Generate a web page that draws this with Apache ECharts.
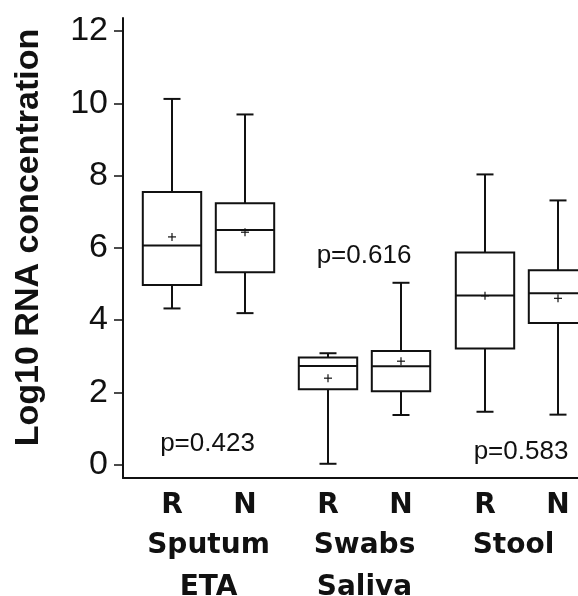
<!DOCTYPE html>
<html><head><meta charset="utf-8">
<script src="https://cdn.jsdelivr.net/npm/echarts@6/dist/echarts.min.js"></script>
<style>html,body{margin:0;padding:0;background:#fff}#c{width:578px;height:596px}</style>
</head><body><div id="c"></div>
<script>
// ---- data ----
const groups = ['Sputum\nETA', 'Swabs\nSaliva', 'Stool'];
const subCategories = ['R', 'N'];
// order: Sputum R, Sputum N, Swabs R, Swabs N, Stool R, Stool N
const whiskerLow  = [4.32, 4.19, 0.02, 1.37, 1.46, 1.38];
const q1          = [4.97, 5.32, 2.08, 2.03, 3.21, 3.92];
const median      = [6.06, 6.49, 2.73, 2.72, 4.68, 4.74];
const q3          = [7.54, 7.23, 2.96, 3.14, 5.87, 5.38];
const whiskerHigh = [10.12, 9.69, 3.08, 5.03, 8.03, 7.31];
const mean        = [6.30, 6.43, 2.39, 2.86, 4.67, 4.60];
const pValues = ['p=0.423', 'p=0.616', 'p=0.583'];
const yTickValues = [0, 2, 4, 6, 8, 10, 12];

// ---- layout ----
const INK = '#111';
const gridLefts = [135.5, 291.5, 448.5];
const gridWidth = 146;
const boxGridTop = 31, boxGridBottom = 131.5;
const boldFont = 'DejaVu Sans';
const plainFont = 'Liberation Sans';

function renderBox(params, api) {
  const xi = api.value(0);
  const lo = api.coord([xi, api.value(1)]);
  const a = api.coord([xi, api.value(2)]);
  const m = api.coord([xi, api.value(3)]);
  const b = api.coord([xi, api.value(4)]);
  const hi = api.coord([xi, api.value(5)]);
  const mn = api.coord([xi, api.value(6)]);
  const band = api.size([1, 0])[0];
  const bw = band * 0.8, hw = bw / 2, cap = 8.5, pl = 4;
  const cx = m[0];
  const st = { stroke: INK, lineWidth: 2 };
  const thin = { stroke: INK, lineWidth: 1.2 };
  const line = (x1, y1, x2, y2, s) => ({ type: 'line', shape: { x1, y1, x2, y2 }, style: s || st });
  return {
    type: 'group',
    children: [
      line(cx, hi[1], cx, b[1]),
      line(cx - cap, hi[1], cx + cap, hi[1]),
      line(cx, a[1], cx, lo[1]),
      line(cx - cap, lo[1], cx + cap, lo[1]),
      { type: 'rect', shape: { x: cx - hw, y: b[1], width: bw, height: a[1] - b[1] },
        style: { stroke: INK, lineWidth: 2, fill: '#fff' } },
      line(cx - hw, m[1], cx + hw, m[1]),
      line(cx - pl, mn[1], cx + pl, mn[1], thin),
      line(cx, mn[1] - pl, cx, mn[1] + pl, thin)
    ]
  };
}

const yMin = yTickValues[0], yMax = yTickValues[yTickValues.length - 1];
const yInterval = yTickValues[1] - yTickValues[0];

const grid = [{ left: 123, right: 0, top: 18, bottom: 118, outerBoundsMode: 'none', containLabel: false }];
const xAxis = [{
  gridIndex: 0, type: 'value', min: 0, max: 1,
  axisLine: { show: true, lineStyle: { color: INK, width: 2 } },
  axisTick: { show: false }, axisLabel: { show: false }, splitLine: { show: false }
}];
const yAxis = [{
  gridIndex: 0, type: 'value', min: 0, max: 1,
  axisLine: { show: true, lineStyle: { color: INK, width: 2 } },
  axisTick: { show: false }, axisLabel: { show: false }, splitLine: { show: false }
}];
const series = [];

groups.forEach((g, gi) => {
  grid.push({ left: gridLefts[gi], width: gridWidth, top: boxGridTop, bottom: boxGridBottom,
    outerBoundsMode: 'none', containLabel: false });
  xAxis.push({
    gridIndex: gi + 1, type: 'category', data: subCategories,
    axisLine: { show: false }, axisTick: { show: false }, splitLine: { show: false },
    axisLabel: { margin: 27, fontSize: 28, fontWeight: 'bold', fontFamily: boldFont, color: INK },
    name: g, nameLocation: 'middle', nameGap: 58,
    nameTextStyle: { fontSize: 28, fontWeight: 'bold', fontFamily: boldFont, color: INK, lineHeight: 42,
      padding: gi === 2 ? [0, 16, 0, 0] : 0 }
  });
  const isFirst = gi === 0;
  yAxis.push({
    gridIndex: gi + 1, type: 'value', min: yMin, max: yMax, interval: yInterval,
    show: isFirst, offset: 12.5,
    axisLine: { show: false },
    axisTick: { show: true, length: 9, lineStyle: { color: INK, width: 1.5 } },
    axisLabel: { margin: 15, fontSize: 34, fontFamily: plainFont, color: INK },
    splitLine: { show: false }
  });
  const data = subCategories.map((c, ci) => {
    const k = gi * 2 + ci;
    return [ci, whiskerLow[k], q1[k], median[k], q3[k], whiskerHigh[k], mean[k]];
  });
  series.push({
    type: 'custom', xAxisIndex: gi + 1, yAxisIndex: gi + 1,
    renderItem: renderBox, data: data, clip: false,
    encode: { x: 0, y: [1, 2, 3, 4, 5, 6] }, silent: true
  });
});

const pPos = [[207.5, 443.6], [364, 256.2], [521, 451.7]];
const graphic = [{
  type: 'text', x: 29, y: 237.5, rotation: Math.PI / 2,
  style: { text: 'Log10 RNA concentration', fontSize: 34, fontWeight: 'bold', fontFamily: plainFont,
    fill: INK, align: 'center', verticalAlign: 'middle' }
}].concat(pValues.map((p, i) => ({
  type: 'text', x: pPos[i][0], y: pPos[i][1],
  style: { text: p, fontSize: 26, fontFamily: plainFont, fill: INK, align: 'center', verticalAlign: 'middle' }
})));

const chart = echarts.init(document.getElementById('c'), null, { renderer: 'canvas' });
chart.setOption({
  animation: false, backgroundColor: '#fff',
  grid, xAxis, yAxis, series, graphic
});
</script></body></html>
